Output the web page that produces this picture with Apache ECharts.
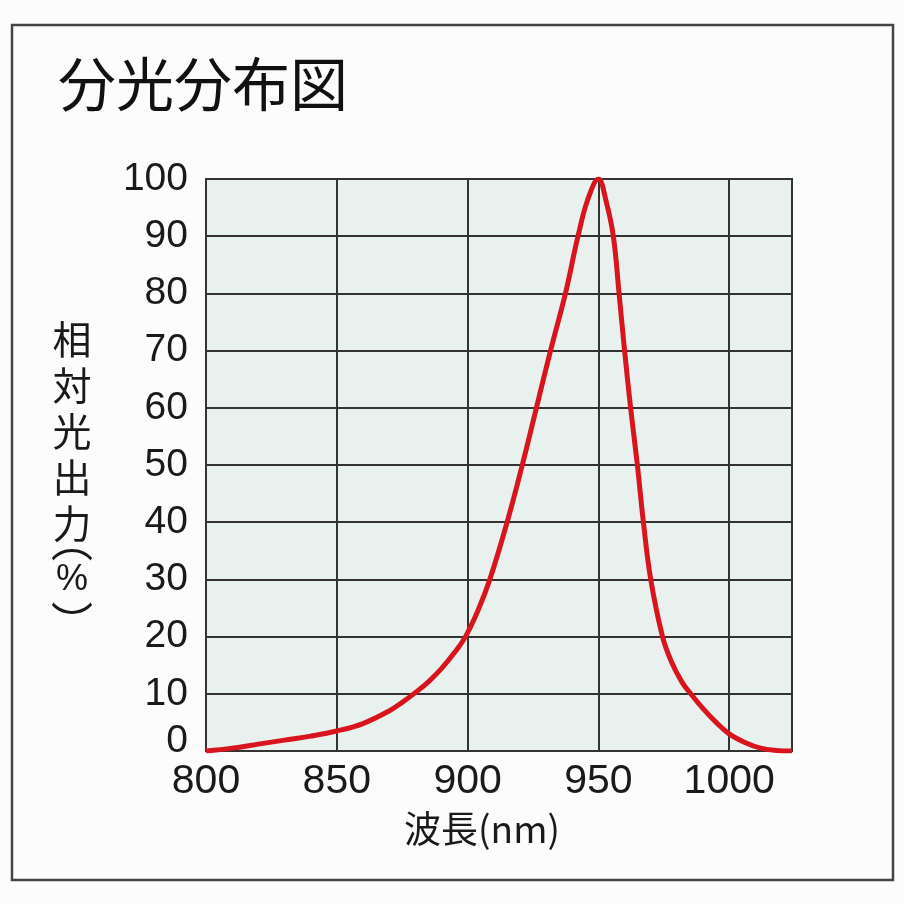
<!DOCTYPE html>
<html>
<head>
<meta charset="utf-8">
<script src="https://cdn.jsdelivr.net/npm/echarts@6/dist/echarts.min.js"></script>
<style>
html,body{margin:0;padding:0;background:#fdfcfd;}
#chart{width:904px;height:904px;}
</style>
</head>
<body>
<div id="chart"></div>
<script>
const titleText = "分光分布図";
const xAxisName = "波長(nm)";
const yAxisNameChars = ["相","対","光","出","力"];
const yAxisUnit = ["︵", "%", "︶"];
const wavelengths = [800, 810, 820, 830, 840, 850, 860, 870, 875, 880, 885, 890, 895, 899.2, 904, 908.5, 915.1, 920.9, 926.3, 931.7, 937.4, 942.2, 946, 950, 953, 955.7, 957.9, 960.0, 962.3, 964.9, 967.2, 970.0, 974.5, 978, 982, 985.3, 990, 995, 1000, 1006, 1012, 1018, 1024];
const relOutput   = [0,   0.5, 1.2, 1.9, 2.6, 3.5, 4.8, 7.0, 8.5, 10.2, 12.1, 14.4, 17.2, 20,  24.6, 30,  40,    50,    60,    70,    80,    90,    96.5, 100, 96,  90,    80,    70,    60,    50,    40,    30,    20,    15.5, 12, 10,  7.4, 5,  3,    1.5,  0.5,  0.1,  0];
const xTicks = {min: 800, max: 1024, interval: 50};
const yTicks = {min: 0, max: 100, interval: 10};

const chart = echarts.init(document.getElementById('chart'), null, {renderer: 'canvas'});
const latin = 'Liberation Sans, Arial, Helvetica, sans-serif';
const cjk = '"Noto Sans CJK JP", "Noto Sans CJK SC", sans-serif';

const option = {
  backgroundColor: '#fdfcfd',
  animation: false,
  grid: {
    left: 206, top: 179, right: 112, bottom: 153,
    show: true, backgroundColor: '#e8f1ed', borderColor: '#333', borderWidth: 2
  },
  xAxis: {
    type: 'value', min: xTicks.min, max: xTicks.max, interval: xTicks.interval,
    axisLine: {show: false}, axisTick: {show: false},
    splitLine: {show: true, lineStyle: {color: '#333', width: 2}},
    axisLabel: {fontSize: 41, color: '#1a1a1a', fontFamily: latin, margin: 10, showMaxLabel: false,
      formatter: v => String(v)}
  },
  yAxis: {
    type: 'value', min: yTicks.min, max: yTicks.max, interval: yTicks.interval,
    axisLine: {show: false}, axisTick: {show: false},
    splitLine: {show: true, lineStyle: {color: '#333', width: 2}},
    axisLabel: {fontSize: 39, color: '#1a1a1a', fontFamily: latin, margin: 18,
      formatter: v => v === 0 ? '{z|0}' : String(v),
      rich: {z: {fontSize: 39, color: '#1a1a1a', fontFamily: latin, padding: [0, 0, 20, 0]}}}
  },
  series: [{
    type: 'line',
    data: wavelengths.map((w, i) => [w, relOutput[i]]),
    showSymbol: false,
    smooth: 0.4,
    lineStyle: {color: '#d8141f', width: 5},
    z: 5
  }],
  graphic: [
    {type: 'rect', shape: {x: 12, y: 25, width: 881, height: 855}, style: {fill: 'none', stroke: '#444', lineWidth: 2.5}, silent: true},
    {type: 'text', x: 58, y: 55, style: {text: titleText, font: '58px ' + cjk, fill: '#111', textVerticalAlign: 'top'}},
    {type: 'text', x: 72, y: 316, style: {text: yAxisNameChars.join('\n'), font: '39px ' + cjk, fill: '#1a1a1a', textAlign: 'center', textVerticalAlign: 'top', lineHeight: 46}},
    {type: 'text', x: 72, y: 541, style: {text: yAxisUnit[0], font: '42px ' + cjk, fill: '#1a1a1a', textAlign: 'center', textVerticalAlign: 'middle'}},
    {type: 'text', x: 72, y: 580, style: {text: yAxisUnit[1], font: '36px ' + latin, fill: '#1a1a1a', textAlign: 'center', textVerticalAlign: 'middle'}},
    {type: 'text', x: 72, y: 622, style: {text: yAxisUnit[2], font: '42px ' + cjk, fill: '#1a1a1a', textAlign: 'center', textVerticalAlign: 'middle'}},
    {type: 'text', x: 482, y: 810, style: {text: xAxisName, font: '37px ' + cjk, fill: '#1a1a1a', textAlign: 'center', textVerticalAlign: 'top'}}
  ]
};
chart.setOption(option);
</script>
</body>
</html>
